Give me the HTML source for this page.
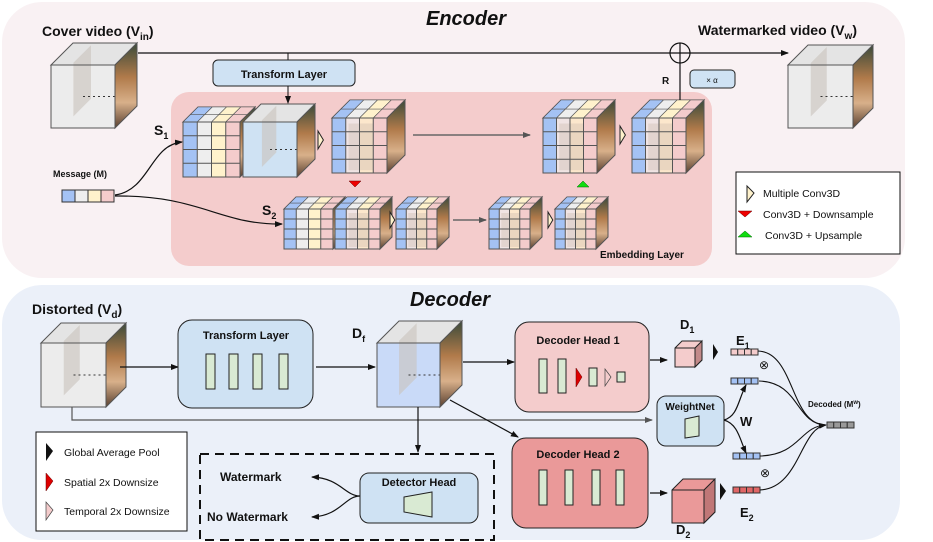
<!DOCTYPE html>
<html><head><meta charset="utf-8"><style>
body{margin:0;background:#fff}
svg{display:block}
text{font-family:"Liberation Sans",Arial,sans-serif;fill:#111}
.b{font-weight:bold}
</style></head><body>
<svg id="s" width="933" height="542" viewBox="0 0 933 542" xmlns="http://www.w3.org/2000/svg">
<defs>
<marker id="ar" markerWidth="8" markerHeight="8" refX="7" refY="4" orient="auto" markerUnits="userSpaceOnUse"><path d="M0,1 L8,4 L0,7 z" fill="#111"/></marker>
<marker id="arg" markerWidth="8" markerHeight="8" refX="7" refY="4" orient="auto" markerUnits="userSpaceOnUse"><path d="M0,1 L8,4 L0,7 z" fill="#555"/></marker>
<linearGradient id="cat" x1="0" y1="0" x2="0" y2="1"><stop offset="0" stop-color="#3a4a3a"/><stop offset=".4" stop-color="#b07a4a"/><stop offset=".7" stop-color="#d8b08a"/><stop offset="1" stop-color="#5a4030"/></linearGradient>
</defs>
<rect x="2" y="2" width="903" height="276" rx="40" fill="#f9f1f3"/>
<rect x="2" y="285" width="898" height="255" rx="40" fill="#ebf0f9"/>
<text x="466" y="25" font-size="20" class="b" font-style="italic" text-anchor="middle">Encoder</text>
<text x="450" y="306" font-size="20" class="b" font-style="italic" text-anchor="middle">Decoder</text>
<rect x="171" y="92" width="541" height="174" rx="18" fill="#f4cccc"/>
<text x="600" y="258" font-size="10" class="b">Embedding Layer</text>
<g id="cubes"></g>
<text x="42" y="36" font-size="14" class="b">Cover video (V<tspan font-size="10" dy="4">in</tspan><tspan dy="-4">)</tspan></text>
<text x="698" y="35" font-size="14" class="b">Watermarked video (V<tspan font-size="10" dy="4">w</tspan><tspan dy="-4">)</tspan></text>
<line x1="138" y1="53" x2="670" y2="53" stroke="#111" stroke-width="1.2"/>
<line x1="690" y1="53" x2="788" y2="53" stroke="#111" stroke-width="1.2" marker-end="url(#ar)"/>
<circle cx="680" cy="53" r="10" fill="none" stroke="#111" stroke-width="1.2"/>
<line x1="670" y1="53" x2="690" y2="53" stroke="#111" stroke-width="1.2"/>
<line x1="680" y1="43" x2="680" y2="100" stroke="#111" stroke-width="1.2"/>
<text x="662" y="84" font-size="10" class="b">R</text>
<rect x="690" y="70" width="45" height="18" rx="4" fill="#cfe2f3" stroke="#222"/>
<text x="712" y="83" font-size="8" text-anchor="middle">× α</text>
<line x1="288" y1="53" x2="288" y2="60" stroke="#111"/>
<rect x="213" y="60" width="142" height="26" rx="5" fill="#cfe2f3" stroke="#222"/>
<text x="284" y="78" font-size="11" class="b" text-anchor="middle">Transform Layer</text>
<line x1="288" y1="86" x2="288" y2="103" stroke="#111" marker-end="url(#ar)"/>
<text x="53" y="177" font-size="9" class="b">Message (M)</text>
<text x="154" y="135" font-size="14" class="b">S<tspan font-size="9" dy="4">1</tspan></text>
<text x="262" y="215" font-size="14" class="b">S<tspan font-size="9" dy="4">2</tspan></text>
<path d="M115,195 C150,190 150,145 182,142" fill="none" stroke="#111" stroke-width="1.2" marker-end="url(#ar)"/>
<path d="M115,196 C200,195 220,225 282,224" fill="none" stroke="#111" stroke-width="1.2" marker-end="url(#ar)"/>
<line x1="413" y1="135" x2="530" y2="135" stroke="#666" stroke-width="1.5" marker-end="url(#arg)"/>
<line x1="453" y1="220" x2="486" y2="220" stroke="#666" stroke-width="1.5" marker-end="url(#arg)"/>
<path d="M349,181 L361,181 L355,187z" fill="#e00" stroke="#600" stroke-width=".5"/>
<path d="M577,187 L589,187 L583,181z" fill="#1d1" stroke="#060" stroke-width=".5"/>
<rect x="736" y="172" width="164" height="82" fill="#fff" stroke="#111"/>
<path d="M747,186 L754,193 L747,202z" fill="#fff2cc" stroke="#222"/>
<text x="763" y="197" font-size="10.5">Multiple Conv3D</text>
<path d="M738,211 L752,211 L745,217z" fill="#e00" stroke="#600" stroke-width=".5"/>
<text x="763" y="218" font-size="10.5">Conv3D + Downsample</text>
<path d="M738,237 L752,237 L745,231z" fill="#1d1" stroke="#060" stroke-width=".5"/>
<text x="765" y="239" font-size="10.5">Conv3D + Upsample</text>
<text x="32" y="314" font-size="14" class="b">Distorted (V<tspan font-size="10" dy="4">d</tspan><tspan dy="-4">)</tspan></text>
<text x="352" y="338" font-size="14" class="b">D<tspan font-size="9" dy="4">f</tspan></text>
<line x1="120" y1="367" x2="178" y2="367" stroke="#111" stroke-width="1.2" marker-end="url(#ar)"/>
<rect x="178" y="320" width="135" height="88" rx="14" fill="#cfe2f3" stroke="#222"/>
<text x="246" y="339" font-size="11" class="b" text-anchor="middle">Transform Layer</text>
<g fill="#d9ead3" stroke="#222"><rect x="206" y="354" width="9" height="35"/><rect x="229" y="354" width="9" height="35"/><rect x="253" y="354" width="9" height="35"/><rect x="279" y="354" width="9" height="35"/></g>
<line x1="316" y1="367" x2="375" y2="367" stroke="#111" stroke-width="1.2" marker-end="url(#ar)"/>
<polyline points="72,407 72,420 652,420" fill="none" stroke="#555" stroke-width="1.2" marker-end="url(#arg)"/>
<line x1="418" y1="407" x2="418" y2="452" stroke="#111" stroke-width="1.2" marker-end="url(#ar)"/>
<line x1="463" y1="362" x2="514" y2="362" stroke="#111" stroke-width="1.2" marker-end="url(#ar)"/>
<line x1="450" y1="400" x2="518" y2="437" stroke="#111" stroke-width="1.2" marker-end="url(#ar)"/>
<rect x="200" y="454" width="294" height="86" fill="none" stroke="#111" stroke-width="2" stroke-dasharray="9,6"/>
<text x="220" y="481" font-size="12" class="b">Watermark</text>
<text x="207" y="521" font-size="12" class="b">No Watermark</text>
<path d="M360,496 C345,496 340,478 312,477" fill="none" stroke="#111" stroke-width="1.2" marker-end="url(#ar)"/>
<path d="M360,496 C345,496 340,516 312,517" fill="none" stroke="#111" stroke-width="1.2" marker-end="url(#ar)"/>
<rect x="360" y="473" width="118" height="50" rx="9" fill="#cfe2f3" stroke="#222"/>
<text x="419" y="486" font-size="11" class="b" text-anchor="middle">Detector Head</text>
<path d="M404,497 L432,492 L432,517 L404,512z" fill="#d9ead3" stroke="#222"/>
<rect x="36" y="432" width="151" height="99" fill="#fff" stroke="#111"/>
<path d="M46,443 L53,451 L46,461z" fill="#111"/><text x="64" y="456" font-size="10.5">Global Average Pool</text>
<path d="M46,473 L53,481 L46,491z" fill="#d00" stroke="#600" stroke-width=".5"/><text x="64" y="486" font-size="10.5">Spatial 2x Downsize</text>
<path d="M46,502 L53,510 L46,520z" fill="#f4cccc" stroke="#444" stroke-width=".7"/><text x="64" y="515" font-size="10.5">Temporal 2x Downsize</text>
<rect x="515" y="322" width="134" height="90" rx="14" fill="#f4cccc" stroke="#222"/>
<text x="578" y="344" font-size="11" class="b" text-anchor="middle">Decoder Head 1</text>
<g fill="#d9ead3" stroke="#222"><rect x="539" y="359" width="8" height="34"/><rect x="558" y="359" width="8" height="34"/><rect x="589" y="368" width="8" height="18"/><rect x="617" y="372" width="8" height="10"/></g>
<path d="M576,368 L582,377 L576,387z" fill="#d00" stroke="#600" stroke-width=".5"/>
<path d="M605,369 L611,377 L605,386z" fill="#f4cccc" stroke="#444" stroke-width=".7"/>
<line x1="650" y1="360" x2="667" y2="360" stroke="#111" stroke-width="1.2" marker-end="url(#ar)"/>
<rect x="512" y="438" width="136" height="90" rx="14" fill="#ea9999" stroke="#222"/>
<text x="578" y="458" font-size="11" class="b" text-anchor="middle">Decoder Head 2</text>
<g fill="#d9ead3" stroke="#222"><rect x="539" y="470" width="8" height="35"/><rect x="565" y="470" width="8" height="35"/><rect x="592" y="470" width="8" height="35"/><rect x="616" y="470" width="8" height="35"/></g>
<line x1="650" y1="493" x2="667" y2="493" stroke="#111" stroke-width="1.2" marker-end="url(#ar)"/>
<path d="M675,348 L682,341 L702,341 L702,360 L695,367 L675,367z" fill="#f4cccc" stroke="#222"/>
<path d="M695,348 L702,341 L702,360 L695,367z" fill="#c28a8a" stroke="#222"/>
<line x1="675" y1="348" x2="695" y2="348" stroke="#222"/>
<path d="M672,490 L683,479 L715,479 L715,512 L704,523 L672,523z" fill="#ea9999" stroke="#222"/>
<path d="M704,490 L715,479 L715,512 L704,523z" fill="#c07777" stroke="#222"/>
<line x1="672" y1="490" x2="704" y2="490" stroke="#222"/>
<text x="680" y="329" font-size="13" class="b">D<tspan font-size="9" dy="4">1</tspan></text>
<text x="676" y="534" font-size="13" class="b">D<tspan font-size="9" dy="4">2</tspan></text>
<path d="M713,344 L718,352 L713,360z" fill="#111"/>
<path d="M720,483 L726,491 L720,500z" fill="#111"/>
<text x="736" y="345" font-size="13" class="b">E<tspan font-size="9" dy="4">1</tspan></text>
<text x="740" y="517" font-size="13" class="b">E<tspan font-size="9" dy="4">2</tspan></text>
<g id="vecs"></g>
<text x="764" y="369" font-size="12" text-anchor="middle">⊗</text>
<text x="765" y="477" font-size="12" text-anchor="middle">⊗</text>
<rect x="657" y="396" width="67" height="50" rx="9" fill="#cfe2f3" stroke="#222"/>
<text x="690" y="410" font-size="10" class="b" text-anchor="middle">WeightNet</text>
<path d="M685,419 L699,416 L699,436 L685,438z" fill="#d9ead3" stroke="#222"/>
<path d="M724,420 C738,416 738,400 746,385" fill="none" stroke="#111" stroke-width="1.2" marker-end="url(#ar)"/>
<path d="M724,420 C738,424 740,440 746,453" fill="none" stroke="#111" stroke-width="1.2" marker-end="url(#ar)"/>
<text x="740" y="426" font-size="13" class="b">W</text>
<text x="808" y="407" font-size="8" class="b">Decoded (M<tspan font-size="6" dy="-3">w</tspan><tspan dy="3">)</tspan></text>
<g fill="none" stroke="#111" stroke-width="1.1">
<path d="M758,351 C795,352 790,425 826,425"/>
<path d="M759,381 C800,382 795,424 826,425"/>
<path d="M760,456 C800,455 800,426 826,425"/>
<path d="M760,490 C800,488 800,428 826,425" marker-end="url(#ar)"/>
</g>
</svg>
<script>
var NS="http://www.w3.org/2000/svg",G=document.getElementById("cubes"),V=document.getElementById("vecs");
function el(p,t,a){var e=document.createElementNS(NS,t);for(var k in a)e.setAttribute(k,a[k]);p.appendChild(e);return e;}
var cols=["#a4c2f4","#eeeeee","#fff2cc","#f4cccc"];
function vid(x,y,w,h,d,front,grid){
 el(G,"path",{d:"M"+x+","+y+" L"+(x+d)+","+(y-d)+" L"+(x+w+d)+","+(y-d)+" L"+(x+w)+","+y+"z",fill:grid?"#ddd":"#e4e4e4",stroke:"#555"});
 if(grid){for(var i=0;i<4;i++){for(var j=0;j<2;j++){var f=j*d/2,fx=x+i*w/4+f,fy=y-f;el(G,"path",{d:"M"+fx+","+fy+" l"+(w/4)+",0 l"+(d/2)+","+(-d/2)+" l"+(-w/4)+",0z",fill:cols[i],stroke:"#555","stroke-width":.6});}}}
 el(G,"path",{d:"M"+(x+w)+","+y+" L"+(x+w+d)+","+(y-d)+" L"+(x+w+d)+","+(y+h-d)+" L"+(x+w)+","+(y+h)+"z",fill:"url(#cat)",stroke:"#555"});
 if(grid==1){for(var i=0;i<4;i++)el(G,"rect",{x:x+i*w/4,y:y,width:w/4,height:h,fill:cols[i]});
  for(var i=0;i<=4;i++){el(G,"line",{x1:x+i*w/4,y1:y,x2:x+i*w/4,y2:y+h,stroke:"#555"});el(G,"line",{x1:x,y1:y+i*h/4,x2:x+w,y2:y+i*h/4,stroke:"#555"});}}
 else if(grid==2){for(var i=0;i<4;i++)el(G,"rect",{x:x+i*w/4,y:y,width:w/4,height:h,fill:cols[i],opacity:i==0?1:.7});
  el(G,"rect",{x:x+w*.3,y:y+h*.1,width:w*.45,height:h*.85,fill:"#c8b8a8",opacity:.35});
  for(var i=0;i<=4;i++){el(G,"line",{x1:x+i*w/4,y1:y,x2:x+i*w/4,y2:y+h,stroke:"#555"});el(G,"line",{x1:x,y1:y+i*h/4,x2:x+w,y2:y+i*h/4,stroke:"#555"});}}
 else{el(G,"rect",{x:x,y:y,width:w,height:h,fill:front});
  el(G,"path",{d:"M"+(x+w*.35)+","+(y-d*.1)+" l"+(d*.8)+","+(-d*.8)+" l0,"+(h*.85)+" l"+(-d*.8)+","+(d*.8)+"z",fill:"#c9c3bd",opacity:.6});
  el(G,"line",{x1:x+w*.5,y1:y+h*.5,x2:x+w,y2:y+h*.5,stroke:"#333","stroke-dasharray":"2,3"});}
 el(G,"rect",{x:x,y:y,width:w,height:h,fill:"none",stroke:"#555"});
}
function tri(x,y,s){el(G,"path",{d:"M"+x+","+(y-s)+" L"+(x+s*.6)+","+y+" L"+x+","+(y+s)+"z",fill:"#fff2cc",stroke:"#222"});}
vid(51,65,64,63,22,"#ececec",0);
vid(788,65,65,63,20,"#ececec",0);
vid(183,122,57,55,15,"",1);
vid(243,122,54,55,18,"#cfe2f3",0);
tri(318,140,9);
vid(332,118,55,55,18,"",2);
vid(543,118,54,55,18,"",2);tri(620,135,9);
vid(632,118,54,55,18,"",2);
vid(284,209,49,40,12,"",1);
vid(335,209,45,40,12,"",2);tri(390,220,8);
vid(396,209,41,40,12,"",2);
vid(489,209,41,40,12,"",2);tri(548,220,8);
vid(555,209,41,40,12,"",2);
vid(41,343,65,64,20,"#ececec",0);
vid(377,343,63,64,22,"#c9daf8",0);
function vec(x,y,w,h,c,p){for(var i=0;i<4;i++)el(p||V,"rect",{x:x+i*w/4,y:y,width:w/4,height:h,fill:Array.isArray(c)?c[i]:c,stroke:"#333","stroke-width":1});}
vec(62,190,52,12,cols,G);
vec(731,349,27,6,"#f4cccc");
vec(731,378,27,6,"#a4c2f4");
vec(733,453,27,6,"#a4c2f4");
vec(733,487,27,6,"#e06666");
vec(827,422,27,6,"#999999");
</script>
</body></html>
